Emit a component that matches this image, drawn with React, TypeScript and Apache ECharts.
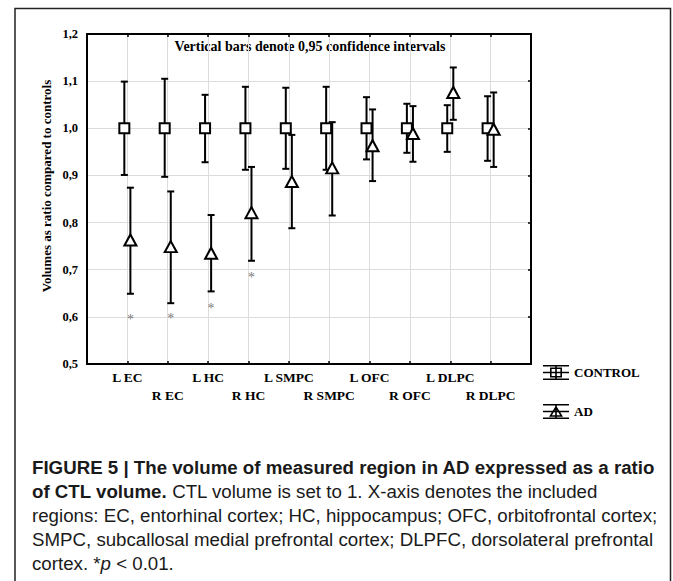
import React, { useEffect, useRef } from "react";
import * as echarts from "echarts";

const categories = ["L EC", "R EC", "L HC", "R HC", "L SMPC", "R SMPC", "L OFC", "R OFC", "L DLPC", "R DLPC"];
const controlMean = [1, 1, 1, 1, 1, 1, 1, 1, 1, 1];
const controlLow = [0.901, 0.897, 0.928, 0.912, 0.914, 0.912, 0.934, 0.948, 0.95, 0.931];
const controlHigh = [1.099, 1.105, 1.071, 1.088, 1.086, 1.088, 1.066, 1.052, 1.049, 1.068];
const adMean = [0.763, 0.749, 0.735, 0.821, 0.887, 0.916, 0.963, 0.989, 1.076, 0.998];
const adLow = [0.649, 0.629, 0.654, 0.719, 0.788, 0.815, 0.888, 0.929, 1.018, 0.918];
const adHigh = [0.874, 0.866, 0.816, 0.918, 0.986, 1.013, 1.04, 1.047, 1.129, 1.076];
const significanceMarks = [0.6, 0.602, 0.624, 0.689, null, null, null, null, null, null];
const yTicks = [0.5, 0.6, 0.7, 0.8, 0.9, 1.0, 1.1, 1.2];

const SERIF = "'Liberation Serif', 'Times New Roman', serif";
const SANS = "'Liberation Sans', Arial, sans-serif";
const CTRL_OFF = -0.075;
const AD_OFF = 0.075;
const CAP = 18.7;

const controlIcon =
  "path://M0 0H26V1.6H0Z M0 13.4H26V15H0Z M12.2 0H13.8V15H12.2Z M0 6.7H26V8.3H0Z M7 2.5H19V12.5H7Z M8.6 4.1V10.9H17.4V4.1Z";
const adIcon =
  "path://M0 0H26V1.6H0Z M0 13.4H26V15H0Z M12.2 0H13.8V15H12.2Z M0 6.7H26V8.3H0Z M13 1.5L20 12.8H6Z M13 4.6L8.9 11.3H17.1Z";

function errRender(params: any, api: any) {
  const x = api.value(0);
  const lo = api.coord([x, api.value(1)]);
  const hi = api.coord([x, api.value(2)]);
  const hw = 3.5;
  const st = { stroke: "#000", lineWidth: 2 };
  return {
    type: "group",
    children: [
      { type: "line", shape: { x1: lo[0], y1: lo[1], x2: hi[0], y2: hi[1] }, style: st },
      { type: "line", shape: { x1: lo[0] - hw, y1: lo[1], x2: lo[0] + hw, y2: lo[1] }, style: st },
      { type: "line", shape: { x1: hi[0] - hw, y1: hi[1], x2: hi[0] + hw, y2: hi[1] }, style: st },
    ],
  };
}

export default function App() {
  const ref = useRef<HTMLDivElement>(null);
  useEffect(() => {
    if (!ref.current) return;
    const chart = echarts.init(ref.current, undefined, { renderer: "svg" });
    const fmtY = (v: number) => v.toFixed(1).replace(".", ",");
    const axisLineStyle = { color: "#000", width: 2 };
    const option: any = {
      animation: false,
      backgroundColor: "#fff",
      grid: { left: 87, right: 142, top: 34, bottom: 217 },
      legend: {
        orient: "vertical",
        left: 543,
        top: 365,
        padding: 0,
        itemWidth: 26,
        itemHeight: 15,
        itemGap: 24,
        selectedMode: false,
        textStyle: { fontFamily: SERIF, fontWeight: "bold", fontSize: 13, color: "#000" },
        data: [
          { name: "CONTROL", icon: controlIcon, itemStyle: { color: "#000", borderWidth: 0 } },
          { name: "AD", icon: adIcon, itemStyle: { color: "#000", borderWidth: 0 } },
        ],
      },
      xAxis: [
        {
          type: "value",
          min: 0,
          max: 11,
          interval: 1,
          axisLine: { show: true, onZero: false, lineStyle: axisLineStyle },
          axisTick: { show: true, inside: true, length: 3, lineStyle: { color: "#000", width: 1.5 } },
          splitLine: { show: true, lineStyle: { color: "#dcdcdc", width: 1 } },
          axisLabel: {
            margin: 5,
            fontFamily: SERIF,
            fontWeight: "bold",
            fontSize: 13.5,
            lineHeight: 17.5,
            color: "#000",
            formatter: (v: number) => {
              const i = Math.round(v) - 1;
              if (i < 0 || i >= categories.length) return "";
              return i % 2 === 0 ? categories[i] : "\n" + categories[i];
            },
          },
        },
        {
          type: "value",
          position: "top",
          min: 0,
          max: 11,
          interval: 1,
          axisLine: { show: true, onZero: false, lineStyle: axisLineStyle },
          axisTick: { show: true, inside: true, length: 3, lineStyle: { color: "#000", width: 1.5 } },
          splitLine: { show: false },
          axisLabel: { show: false },
        },
      ],
      yAxis: [
        {
          type: "value",
          min: yTicks[0],
          max: yTicks[yTicks.length - 1],
          interval: 0.1,
          axisLine: { show: true, onZero: false, lineStyle: axisLineStyle },
          axisTick: { show: false },
          splitLine: { show: true, lineStyle: { color: "#dcdcdc", width: 1 } },
          axisLabel: {
            margin: 9,
            fontFamily: SERIF,
            fontWeight: "bold",
            fontSize: 12.5,
            color: "#000",
            formatter: fmtY,
          },
        },
        {
          type: "value",
          position: "right",
          min: yTicks[0],
          max: yTicks[yTicks.length - 1],
          interval: 0.1,
          axisLine: { show: true, onZero: false, lineStyle: axisLineStyle },
          axisTick: { show: true, inside: true, length: 3, lineStyle: { color: "#000", width: 1.5 } },
          splitLine: { show: false },
          axisLabel: { show: false },
        },
      ],
      series: [
        {
          name: "ctrlErr",
          type: "custom",
          z: 2,
          renderItem: errRender,
          encode: { x: 0, y: [1, 2] },
          data: categories.map((_, i) => [i + 1 + CTRL_OFF, controlLow[i], controlHigh[i]]),
        },
        {
          name: "adErr",
          type: "custom",
          z: 2,
          renderItem: errRender,
          encode: { x: 0, y: [1, 2] },
          data: categories.map((_, i) => [i + 1 + AD_OFF, adLow[i], adHigh[i]]),
        },
        {
          name: "CONTROL",
          type: "scatter",
          z: 3,
          symbol: "rect",
          symbolSize: 10,
          itemStyle: { color: "#fff", borderColor: "#000", borderWidth: 2, opacity: 1 },
          data: categories.map((_, i) => [i + 1 + CTRL_OFF, controlMean[i]]),
        },
        {
          name: "AD",
          type: "scatter",
          z: 3,
          symbol: "triangle",
          symbolSize: [12, 11],
          itemStyle: { color: "#fff", borderColor: "#000", borderWidth: 2, opacity: 1 },
          data: categories.map((_, i) => [i + 1 + AD_OFF, adMean[i]]),
        },
        {
          name: "sig",
          type: "scatter",
          z: 3,
          symbol: "circle",
          symbolSize: 1,
          itemStyle: { color: "transparent" },
          label: {
            show: true,
            position: "inside",
            formatter: "*",
            offset: [0, 3],
            color: "#555",
            fontFamily: SERIF,
            fontSize: 14,
          },
          data: significanceMarks
            .map((v, i) => (v == null ? null : [i + 1 + AD_OFF, v]))
            .filter((d) => d !== null),
        },
      ],
      graphic: [
        {
          type: "polyline",
          silent: true,
          shape: { points: [[15, 581], [15, 8.5], [670.5, 8.5], [670.5, 581]] },
          style: { stroke: "#222", lineWidth: 1.5, fill: null },
        },
        {
          type: "text",
          x: 310,
          y: 46,
          style: {
            text: "Vertical bars denote 0,95 confidence intervals",
            align: "center",
            verticalAlign: "middle",
            font: `bold 14px ${SERIF}`,
            fill: "#000",
          },
        },
        {
          type: "text",
          x: 46,
          y: 186,
          rotation: Math.PI / 2,
          style: {
            text: "Volumes as ratio compared to controls",
            align: "center",
            verticalAlign: "middle",
            font: `bold 13px ${SERIF}`,
            fill: "#000",
          },
        },
        {
          type: "text",
          x: 32,
          y: 455,
          style: {
            text:
              "{b|FIGURE 5 | The volume of measured region in AD expressed as a ratio}\n" +
              "{b|of CTL volume.}{n| CTL volume is set to 1. X-axis denotes the included}\n" +
              "{n|regions: EC, entorhinal cortex; HC, hippocampus; OFC, orbitofrontal cortex;}\n" +
              "{n|SMPC, subcallosal medial prefrontal cortex; DLPFC, dorsolateral prefrontal}\n" +
              "{n|cortex. *}{i|p}{n| < 0.01.}",
            align: "left",
            verticalAlign: "top",
            fill: "#1a1a1a",
            rich: {
              b: { fontFamily: SANS, fontWeight: "bold", fontSize: CAP, lineHeight: 24, fill: "#1a1a1a" },
              n: { fontFamily: SANS, fontSize: CAP, lineHeight: 24, fill: "#1a1a1a" },
              i: { fontFamily: SANS, fontStyle: "italic", fontSize: CAP, lineHeight: 24, fill: "#1a1a1a" },
            },
          },
        },
      ],
    };
    chart.setOption(option);
    return () => chart.dispose();
  }, []);
  return (
    <div
      ref={ref}
      style={{ position: "fixed", left: 0, top: 0, width: 673, height: 581, background: "#fff" }}
    />
  );
}
